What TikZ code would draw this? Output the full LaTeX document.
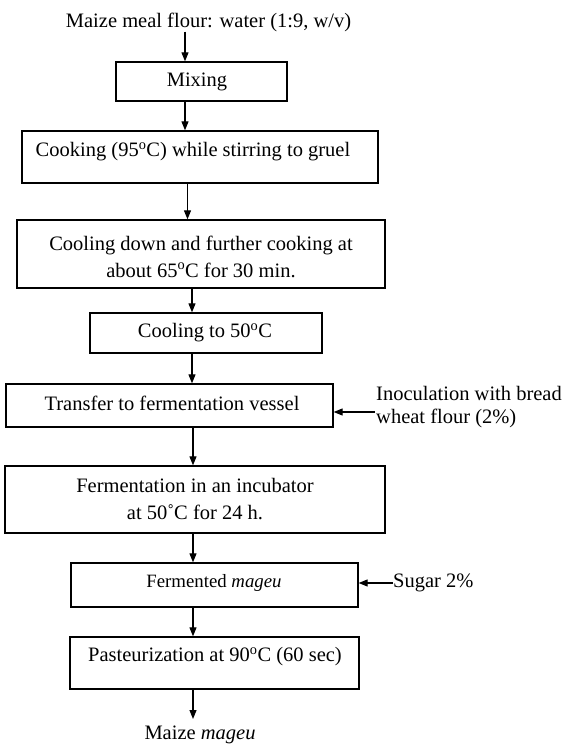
\documentclass[tikz,border=0pt]{standalone}
\usepackage{fontspec}
\setmainfont{Liberation Serif}
\usetikzlibrary{arrows.meta}
\begin{document}
\begin{tikzpicture}[x=1pt,y=-1pt,
  box/.style={draw, line width=1.3pt, inner sep=0pt},
  txt/.style={inner sep=0pt, font=\fontsize{20.5}{27}\selectfont, align=center},
  arr/.style={line width=1.1pt, -{Triangle[length=9pt,width=7pt]}}]
\useasboundingbox (0,0) rectangle (569,746);

% top input
\node[txt] (src) at (208.5,22) {Maize meal flour: water (1:9, w/v)};

% boxes
\node[box, minimum width=171pt, minimum height=39pt] (mix) at (201.5,81.5) {};
\node[txt] (mixt) at (197,82) {Mixing};

\node[box, minimum width=356pt, minimum height=52pt] (cook) at (200,157) {};
\node[txt] (cookt) at (193,152) {Cooking (95\textsuperscript{o}C) while stirring to gruel};

\node[box, minimum width=368pt, minimum height=68pt] (cool) at (201,254) {};
\node[txt] (coolt) at (201,256.5) {Cooling down and further cooking at\\about 65\textsuperscript{o}C for 30 min.};

\node[box, minimum width=232pt, minimum height=40pt] (cfifty) at (206,333) {};
\node[txt] (cfiftyt) at (205,333) {Cooling to 50\textsuperscript{o}C};

\node[box, minimum width=327pt, minimum height=43pt] (trans) at (169.5,405.5) {};
\node[txt] (transt) at (172,403) {Transfer to fermentation vessel};

\node[box, minimum width=380pt, minimum height=67pt] (ferm) at (195,499.5) {};
\node[txt] (fermt) at (195,499.5) {Fermentation in an incubator\\at 50˚C for 24 h.};

\node[box, minimum width=287pt, minimum height=44pt] (fmag) at (214.5,585) {};
\node[txt, font=\fontsize{18.8}{24}\selectfont] (fmagt) at (214,583) {Fermented \textit{mageu}};

\node[box, minimum width=289pt, minimum height=52pt] (past) at (214.5,663) {};
\node[txt] (pastt) at (215,657) {Pasteurization at 90\textsuperscript{o}C (60 sec)};

% output
\node[txt] (out) at (200,735) {Maize \textit{mageu}};
\coordinate (outtip) at (193,719);

% side inputs
\node[txt, align=left, anchor=west, font=\fontsize{20.5}{23}\selectfont] (inoc) at (376,407) {Inoculation with bread\\wheat flour (2\%)};
\coordinate (inocA) at (375,412);
\node[txt, anchor=west] (sugar) at (393,583) {Sugar 2\%};

% vertical arrows
\draw[arr] (185,0 |- src.south) -- (185,0 |- mix.north);
\draw[arr] (185,0 |- mix.south) -- (185,0 |- cook.north);
\draw[arr] (187.5,0 |- cook.south) -- (187.5,0 |- cool.north);
\draw[arr] (192,0 |- cool.south) -- (192,0 |- cfifty.north);
\draw[arr] (192,0 |- cfifty.south) -- (192,0 |- trans.north);
\draw[arr] (193,0 |- trans.south) -- (193,0 |- ferm.north);
\draw[arr] (193,0 |- ferm.south) -- (193,0 |- fmag.north);
\draw[arr] (193,0 |- fmag.south) -- (193,0 |- past.north);
\draw[arr] (193,0 |- past.south) -- (outtip);

% side arrows
\draw[arr] (inocA) -- (inocA -| trans.east);
\draw[arr] (sugar.west) -- (sugar.west -| fmag.east);
\end{tikzpicture}
\end{document}
